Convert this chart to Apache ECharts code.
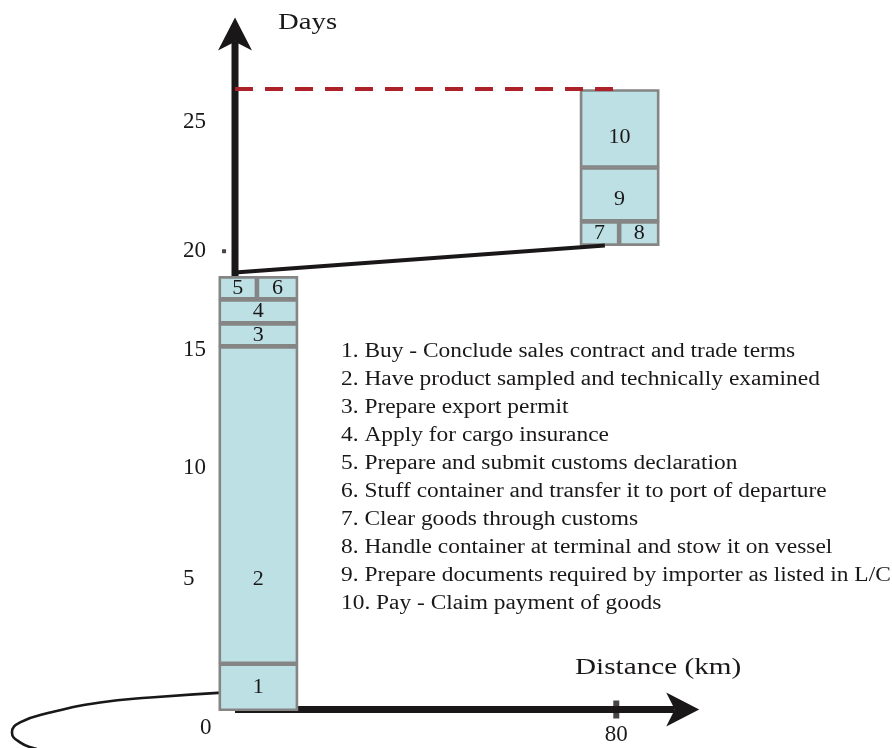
<!DOCTYPE html>
<html><head><meta charset="utf-8">
<script src="https://cdn.jsdelivr.net/npm/echarts@6/dist/echarts.min.js"></script>
<style>html,body{margin:0;padding:0;background:#fff}#chart{width:892px;height:748px}</style>
</head><body><div id="chart"></div>
<script>
// ---- data ----
const stepIds = ['1','2','3','4','5','6','7','8','9','10'];
const boxKmStart = [-3.4, -3.4, -3.4, -3.4, -3.4, 4.6, 72.4, 80.6, 72.4, 72.4];
const boxKmEnd   = [13.2, 13.2, 13.2, 13.2, 4.6, 13.2, 80.6, 89.0, 89.0, 89.0];
const boxDayStart = [-0.05, 1.95, 15.45, 16.43, 17.45, 17.45, 19.74, 19.74, 20.77, 23.06];
const boxDayEnd   = [1.95, 15.45, 16.43, 17.45, 18.43, 18.43, 20.77, 20.77, 23.06, 26.38];
const stepNames = [
  '1. Buy - Conclude sales contract and trade terms',
  '2. Have product sampled and technically examined',
  '3. Prepare export permit',
  '4. Apply for cargo insurance',
  '5. Prepare and submit customs declaration',
  '6. Stuff container and transfer it to port of departure',
  '7. Clear goods through customs',
  '8. Handle container at terminal and stow it on vessel',
  '9. Prepare documents required by importer as listed in L/C',
  '10. Pay - Claim payment of goods'
];
const yTickText = ['0', '5', '10', '15', '20', '25'];
const yTickDays = [-0.77, 5.57, 10.26, 15.28, 19.53, 25.02];
const xTickText = ['80'];
const xTickKm = [80];
const transferKm = [0, 77.6];
const transferDays = [18.6, 19.74];
const deadlineKm = [0, 80];
const deadlineDays = [26.4, 26.4];
const axisEndKm = 97.4;
const axisEndDays = 29.45;
const prevCurveKm   = [-2.7, -17.8, -28.3, -38.8, -45.1, -46.8, -45.1, -42.0, -38.8];
const prevCurveDays = [0.72, 0.51, 0.30, -0.13, -0.55, -0.98, -1.40, -1.66, -1.83];
const markKm = [-2.3, 80];
const markDays = [19.5, 0];

// ---- styles ----
const INK = '#1a1718';
const SERIF = '"Liberation Serif", "Times New Roman", serif';
const BOX_FILL = '#bde0e4';
const BOX_LINE = '#858585';
const labelShift = {'2': 74, '9': 5, '10': 9};

const boxData = stepIds.map((id, i) => [boxKmStart[i], boxKmEnd[i], boxDayStart[i], boxDayEnd[i]]);
const chart = echarts.init(document.getElementById('chart'), null, {renderer: 'canvas'});

function arrowItem(params, api) {
  const p0 = api.coord([api.value(0), api.value(1)]);
  const p1 = api.coord([api.value(2), api.value(3)]);
  const dx = p1[0] - p0[0], dy = p1[1] - p0[1];
  const len = Math.sqrt(dx * dx + dy * dy);
  const ux = dx / len, uy = dy / len, nx = -uy, ny = ux;
  const L = 33, W = 17, N = 0.74 * L;
  const back = [p1[0] - ux * L, p1[1] - uy * L];
  const notch = [p1[0] - ux * N, p1[1] - uy * N];
  return {
    type: 'group',
    children: [
      {type: 'line', shape: {x1: p0[0], y1: p0[1], x2: notch[0], y2: notch[1]},
       style: {stroke: INK, lineWidth: 7}},
      {type: 'polygon', shape: {points: [p1, [back[0] + nx * W, back[1] + ny * W], notch, [back[0] - nx * W, back[1] - ny * W]]},
       style: {fill: INK}}
    ]
  };
}

const option = {
  animation: false,
  grid: {left: 0, right: 0, top: 0, bottom: 0, containLabel: false, outerBoundsMode: 'none'},
  xAxis: {
    type: 'value', min: -49.31, max: 137.85, position: 'bottom',
    axisLine: {show: false, onZero: false},
    axisTick: {show: false}, splitLine: {show: false},
    axisLabel: {
      customValues: xTickKm,
      formatter: v => xTickText[xTickKm.findIndex(t => Math.abs(t - v) < 1e-6)],
      margin: -25, fontSize: 23, fontFamily: SERIF, color: INK
    }
  },
  yAxis: {
    type: 'value', min: -1.638, max: 30.19, position: 'left',
    axisLine: {show: false, onZero: false},
    axisTick: {show: false}, splitLine: {show: false},
    axisLabel: {
      customValues: yTickDays,
      formatter: v => {
        const i = yTickDays.findIndex(t => Math.abs(t - v) < 1e-6);
        return i === 0 ? '{o|' + yTickText[i] + '}' : yTickText[i];
      },
      align: 'left', margin: -183, fontSize: 23, fontFamily: SERIF, color: INK,
      rich: {o: {padding: [0, 0, 0, 17], fontSize: 23, fontFamily: SERIF, color: INK}}
    }
  },
  graphic: [
    {type: 'text', x: 278, y: 23, scaleX: 1.25, style: {text: 'Days', fontSize: 23, fontFamily: SERIF, fill: INK, verticalAlign: 'middle'}},
    {type: 'text', x: 575, y: 668, scaleX: 1.27, style: {text: 'Distance (km)', fontSize: 23, fontFamily: SERIF, fill: INK, verticalAlign: 'middle'}},
    {type: 'text', x: 341, y: 338, scaleX: 1.17, style: {text: stepNames.join('\n'), fontSize: 20, lineHeight: 28, fontFamily: SERIF, fill: INK, verticalAlign: 'top'}}
  ],
  series: [
    {
      type: 'line', z: 1, smooth: 0.5, symbol: 'none',
      data: prevCurveKm.map((k, i) => [k, prevCurveDays[i]]),
      lineStyle: {color: INK, width: 2.6}
    },
    {
      type: 'custom', z: 2, renderItem: arrowItem,
      data: [[0, 0, axisEndKm, 0], [0, 0, 0, axisEndDays]]
    },
    {
      type: 'custom', z: 3,
      data: boxData,
      renderItem: (params, api) => {
        const a = api.coord([api.value(0), api.value(2)]);
        const b = api.coord([api.value(1), api.value(3)]);
        const id = stepIds[params.dataIndex];
        const x = a[0] + 1, y = b[1] + 1, w = b[0] - a[0] - 2, h = a[1] - b[1] - 2;
        return {
          type: 'group',
          children: [
            {type: 'rect', shape: {x, y, width: w, height: h}, style: {fill: BOX_FILL, stroke: BOX_LINE, lineWidth: 2.6}},
            {type: 'text', style: {text: id, x: x + w / 2, y: y + h / 2 + (labelShift[id] || 0),
              align: 'center', verticalAlign: 'middle', fontSize: 22, fontFamily: SERIF, fill: INK}}
          ]
        };
      }
    },
    {
      type: 'line', z: 4, symbol: 'none',
      data: transferKm.map((k, i) => [k, transferDays[i]]),
      lineStyle: {color: INK, width: 4}
    },
    {
      type: 'line', z: 4, symbol: 'none',
      data: deadlineKm.map((k, i) => [k, deadlineDays[i]]),
      lineStyle: {color: '#ad2229', width: 4, type: [18, 12]}
    },
    {
      type: 'scatter', z: 5,
      data: markKm.map((k, i) => [k, markDays[i]]),
      symbol: 'rect',
      symbolSize: (v, p) => p.dataIndex === 0 ? [4, 4] : [6, 18],
      itemStyle: {color: INK}
    }
  ]
};
chart.setOption(option);
</script>
</body></html>
